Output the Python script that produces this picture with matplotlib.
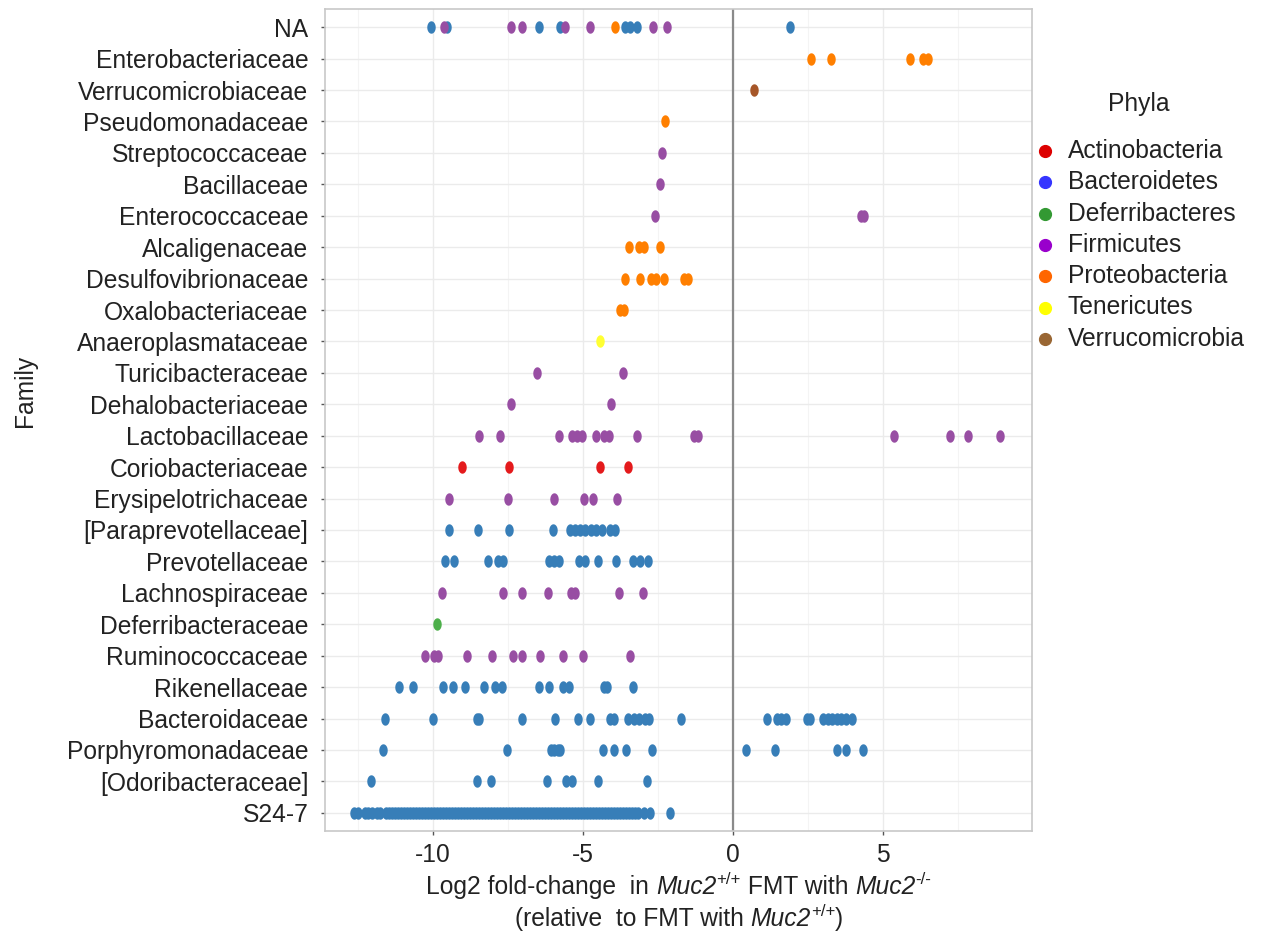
import matplotlib
matplotlib.use("Agg")
import matplotlib.pyplot as plt
import numpy as np
from matplotlib.path import Path
from matplotlib.lines import Line2D

plt.rcParams['font.family'] = ['Liberation Sans', 'DejaVu Sans']

# ---------------- data ----------------
families = ["NA", "Enterobacteriaceae", "Verrucomicrobiaceae", "Pseudomonadaceae",
            "Streptococcaceae", "Bacillaceae", "Enterococcaceae", "Alcaligenaceae",
            "Desulfovibrionaceae", "Oxalobacteriaceae", "Anaeroplasmataceae",
            "Turicibacteraceae", "Dehalobacteriaceae", "Lactobacillaceae",
            "Coriobacteriaceae", "Erysipelotrichaceae", "[Paraprevotellaceae]",
            "Prevotellaceae", "Lachnospiraceae", "Deferribacteraceae",
            "Ruminococcaceae", "Rikenellaceae", "Bacteroidaceae",
            "Porphyromonadaceae", "[Odoribacteraceae]", "S24-7"]

phyla = ["Actinobacteria", "Bacteroidetes", "Deferribacteres", "Firmicutes",
         "Proteobacteria", "Tenericutes", "Verrucomicrobia"]

na_firmicutes = [-9.62, -7.41, -7.02, -5.60, -4.76, -2.65, -2.21]
na_bacteroidetes = [-10.06, -9.52, -6.48, -5.75, -3.61, -3.43, -3.19, 1.91]
na_proteobacteria = [-3.92]
enterobacteriaceae = [2.61, 3.28, 5.90, 6.32, 6.50]
verrucomicrobiaceae = [0.71]
pseudomonadaceae = [-2.27]
streptococcaceae = [-2.36]
bacillaceae = [-2.42]
enterococcaceae = [-2.59, 4.28, 4.36]
alcaligenaceae = [-3.46, -3.14, -2.97, -2.42]
desulfovibrionaceae = [-3.60, -3.09, -2.74, -2.58, -2.29, -1.63, -1.51]
oxalobacteriaceae = [-3.77, -3.62]
anaeroplasmataceae = [-4.44]
turicibacteraceae = [-6.53, -3.65]
dehalobacteriaceae = [-7.41, -4.08]
lactobacillaceae = [-8.45, -7.75, -5.79, -5.35, -5.20, -5.02, -4.57, -4.29, -4.14,
                    -3.21, -1.30, -1.17, 5.37, 7.23, 7.82, 8.91]
coriobacteriaceae = [-9.03, -7.46, -4.43, -3.49]
erysipelotrichaceae = [-9.45, -7.49, -5.96, -4.96, -4.67, -3.87]
paraprevotellaceae = [-9.46, -8.49, -7.45, -5.99, -5.42, -5.26, -5.10, -4.92, -4.74,
                      -4.56, -4.36, -4.10, -3.92]
prevotellaceae = [-9.61, -9.29, -8.18, -7.83, -7.65, -6.14, -5.97, -5.79, -5.12, -4.93,
                  -4.50, -3.90, -3.34, -3.09, -2.83]
lachnospiraceae = [-9.70, -7.65, -7.03, -6.16, -5.41, -5.26, -3.81, -3.00]
deferribacteraceae = [-9.85]
ruminococcaceae = [-10.27, -9.98, -9.83, -8.85, -8.03, -7.32, -7.03, -6.42, -5.67,
                   -4.99, -3.42]
rikenellaceae = [-11.13, -10.68, -9.65, -9.32, -8.93, -8.30, -7.92, -7.69, -6.48, -6.13,
                 -5.67, -5.45, -4.30, -4.20, -3.32]
bacteroidaceae = [-11.60, -10.00, -8.54, -8.46, -7.04, -5.94, -5.18, -4.75, -4.10,
                  -3.98, -3.49, -3.31, -3.13, -2.94, -2.79, -1.72, 1.14, 1.48, 1.59,
                  1.77, 2.46, 2.57, 3.01, 3.16, 3.31, 3.46, 3.61, 3.77, 3.96]
porphyromonadaceae = [-11.66, -7.53, -6.05, -5.95, -5.84, -5.75, -4.34, -3.96, -3.57,
                      -2.71, 0.43, 1.40, 3.46, 3.77, 4.34]
odoribacteraceae = [-12.08, -8.54, -8.05, -6.19, -5.57, -5.38, -4.49, -2.86]
s24_7 = [-12.62, -12.50, -12.28, -12.18, -12.02, -11.88, -11.78, -11.58, -11.48,
         -11.38, -11.27, -11.18, -11.08, -10.97, -10.88, -10.78, -10.67, -10.58, -10.48,
         -10.37, -10.28, -10.18, -10.07, -9.98, -9.88, -9.77, -9.68, -9.58, -9.45,
         -9.35, -9.26, -9.15, -9.05, -8.96, -8.85, -8.75, -8.66, -8.55, -8.45, -8.36,
         -8.25, -8.15, -8.06, -7.95, -7.85, -7.76, -7.65, -7.55, -7.46, -7.35, -7.25,
         -7.16, -7.05, -6.95, -6.86, -6.75, -6.65, -6.56, -6.45, -6.35, -6.26, -6.15,
         -6.05, -5.96, -5.85, -5.75, -5.66, -5.55, -5.45, -5.36, -5.25, -5.15, -5.06,
         -4.95, -4.85, -4.76, -4.65, -4.55, -4.46, -4.35, -4.25, -4.16, -4.05, -3.95,
         -3.86, -3.75, -3.65, -3.56, -3.45, -3.35, -3.26, -3.17, -2.95, -2.78, -2.10]

series = [
    ("NA", "Bacteroidetes", na_bacteroidetes),
    ("NA", "Firmicutes", na_firmicutes),
    ("NA", "Proteobacteria", na_proteobacteria),
    ("Enterobacteriaceae", "Proteobacteria", enterobacteriaceae),
    ("Verrucomicrobiaceae", "Verrucomicrobia", verrucomicrobiaceae),
    ("Pseudomonadaceae", "Proteobacteria", pseudomonadaceae),
    ("Streptococcaceae", "Firmicutes", streptococcaceae),
    ("Bacillaceae", "Firmicutes", bacillaceae),
    ("Enterococcaceae", "Firmicutes", enterococcaceae),
    ("Alcaligenaceae", "Proteobacteria", alcaligenaceae),
    ("Desulfovibrionaceae", "Proteobacteria", desulfovibrionaceae),
    ("Oxalobacteriaceae", "Proteobacteria", oxalobacteriaceae),
    ("Anaeroplasmataceae", "Tenericutes", anaeroplasmataceae),
    ("Turicibacteraceae", "Firmicutes", turicibacteraceae),
    ("Dehalobacteriaceae", "Firmicutes", dehalobacteriaceae),
    ("Lactobacillaceae", "Firmicutes", lactobacillaceae),
    ("Coriobacteriaceae", "Actinobacteria", coriobacteriaceae),
    ("Erysipelotrichaceae", "Firmicutes", erysipelotrichaceae),
    ("[Paraprevotellaceae]", "Bacteroidetes", paraprevotellaceae),
    ("Prevotellaceae", "Bacteroidetes", prevotellaceae),
    ("Lachnospiraceae", "Firmicutes", lachnospiraceae),
    ("Deferribacteraceae", "Deferribacteres", deferribacteraceae),
    ("Ruminococcaceae", "Firmicutes", ruminococcaceae),
    ("Rikenellaceae", "Bacteroidetes", rikenellaceae),
    ("Bacteroidaceae", "Bacteroidetes", bacteroidaceae),
    ("Porphyromonadaceae", "Bacteroidetes", porphyromonadaceae),
    ("[Odoribacteraceae]", "Bacteroidetes", odoribacteraceae),
    ("S24-7", "Bacteroidetes", s24_7),
]

point_colors = {"Actinobacteria": "#E41A1C", "Bacteroidetes": "#377EB8",
                "Deferribacteres": "#4DAF4A", "Firmicutes": "#984EA3",
                "Proteobacteria": "#FF7F00", "Tenericutes": "#FFFF33",
                "Verrucomicrobia": "#A65628"}
legend_colors = {"Actinobacteria": "#DD0000", "Bacteroidetes": "#3535FF",
                 "Deferribacteres": "#339933", "Firmicutes": "#9900CC",
                 "Proteobacteria": "#FF6600", "Tenericutes": "#FFFF00",
                 "Verrucomicrobia": "#996633"}

FS = 17.7
TXT = "#222222"

# ---------------- figure ----------------
W, H = 1261, 943
fig = plt.figure(figsize=(W / 100, H / 100), dpi=100)
ax = fig.add_axes([325 / W, 1 - 831 / H, (1032 - 325) / W, (831 - 9) / H])

ypos = {f: len(families) - 1 - i for i, f in enumerate(families)}

t = np.linspace(0, 2 * np.pi, 40)
ell = Path(np.column_stack([0.68 * np.cos(t), np.sin(t)]), closed=True)

for fam, ph, vals in series:
    ax.scatter(vals, [ypos[fam]] * len(vals), s=80, marker=ell,
               color=point_colors[ph], linewidths=0, zorder=3)

ax.axvline(0, color="#8a8a8a", lw=1.6, zorder=2)

ax.set_xlim(-13.6, 9.97)
ax.set_ylim(-0.58, len(families) - 1 + 0.58)
ax.set_xticks([-10, -5, 0, 5])
ax.set_xticklabels(["-10", "-5", "0", "5"])
ax.set_xticks([-12.5, -7.5, -2.5, 2.5, 7.5], minor=True)
ax.set_yticks([ypos[f] for f in families])
ax.set_yticklabels(families)

ax.grid(True, which="major", color="#ebebeb", lw=1.0, zorder=0)
ax.grid(True, which="minor", axis="x", color="#f4f4f4", lw=0.8, zorder=0)
ax.set_axisbelow(True)
for sp in ax.spines.values():
    sp.set_color("#c8c8c8")
    sp.set_linewidth(1.2)

ax.tick_params(axis="both", which="major", length=3, width=1, color="#555555",
               labelsize=FS, labelcolor=TXT)
ax.tick_params(axis="y", pad=9)
ax.tick_params(axis="x", pad=6)
ax.tick_params(which="minor", length=0)

# axis titles
fig.text(25 / W, 1 - 391 / H, "Family", rotation=90, ha="center", va="center",
         fontsize=FS, color=TXT)

renderer = fig.canvas.get_renderer()


def rich_line(cx_px, base_px, pieces):
    """pieces: (text, italic, is_superscript)"""
    arts = []
    for txt, it, sup in pieces:
        size = FS * 0.68 if sup else FS
        a = fig.text(0, 0, txt, fontsize=size, color=TXT,
                     style="italic" if it else "normal", va="baseline", ha="left")
        arts.append((a, sup))
    widths = [a.get_window_extent(renderer).width for a, _ in arts]
    x = cx_px - sum(widths) / 2
    for (a, sup), w in zip(arts, widths):
        yb = base_px - (FS * 0.40 / 0.72 if sup else 0)
        a.set_position((x / W, 1 - yb / H))
        x += w


rich_line(679, 894, [("Log2 fold-change  in ", False, False), ("Muc2", True, False),
                     ("+/+", False, True), (" FMT with ", False, False),
                     ("Muc2", True, False), ("-/-", False, True)])
rich_line(679, 926, [("(relative  to FMT with ", False, False), ("Muc2", True, False),
                     ("+/+", False, True), (")", False, False)])

# legend
fig.text(1139 / W, 1 - 104 / H, "Phyla", ha="center", va="center", fontsize=FS,
         color=TXT)
leg_y0, leg_dy = 151, 31.3
for i, ph in enumerate(phyla):
    yy = 1 - (leg_y0 + i * leg_dy) / H
    fig.add_artist(Line2D([1045 / W], [yy], marker="o", markersize=8.5,
                          color=legend_colors[ph], linestyle="none",
                          transform=fig.transFigure))
    fig.text(1068 / W, yy, ph, ha="left", va="center", fontsize=FS, color=TXT)

fig.savefig("out.png", dpi=100)
